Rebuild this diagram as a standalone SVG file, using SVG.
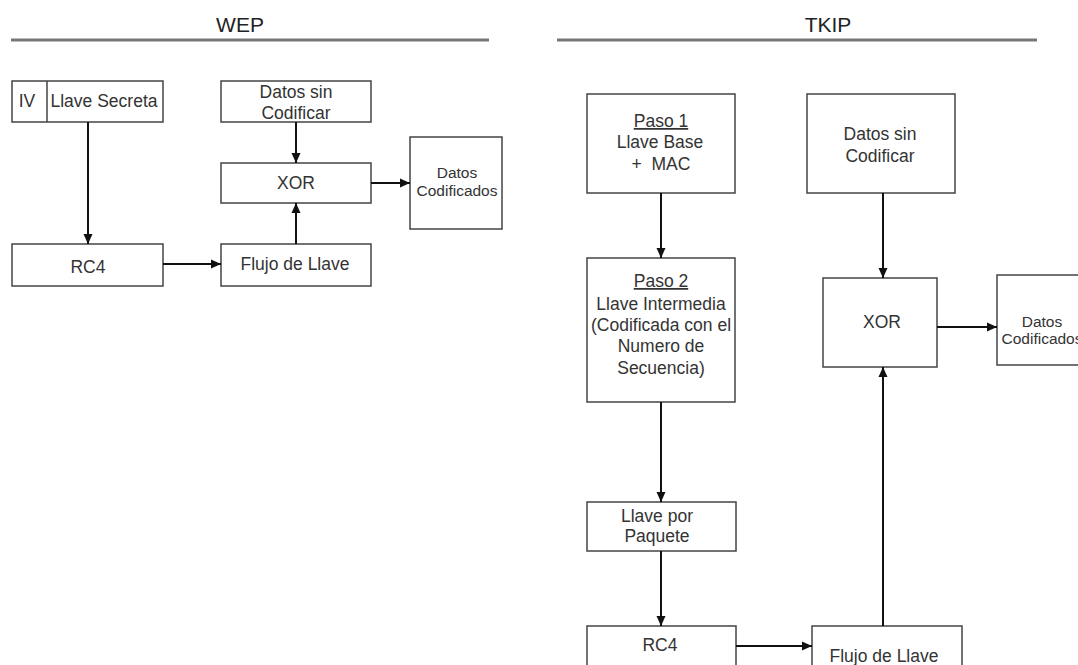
<svg xmlns="http://www.w3.org/2000/svg" width="1078" height="665" viewBox="0 0 1078 665">
  <defs>
    <marker id="arrow" markerUnits="userSpaceOnUse" markerWidth="10" markerHeight="10" viewBox="0 0 10 10" refX="10" refY="5" orient="auto">
      <path d="M0,0.5 L10,5 L0,9.5 Z" fill="#111"/>
    </marker>
    <style>
      .box { fill: #ffffff; stroke: #444444; stroke-width: 1.5; }
      .t { font-family: "Liberation Sans", Arial, sans-serif; font-size: 17.5px; fill: #333333; text-anchor: middle; }
      .sm { font-size: 15.5px; }
      .hdr { font-family: "Liberation Sans", Arial, sans-serif; font-size: 21px; fill: #222222; text-anchor: middle; }
      .rule { stroke: #777777; stroke-width: 3; }
      .link { stroke: #111111; stroke-width: 2; fill: none; marker-end: url(#arrow); }
      .u { text-decoration: underline; }
    </style>
  </defs>
  <rect width="1078" height="665" fill="#ffffff"/>

  <!-- section headers -->
  <g id="header-wep">
    <text class="hdr" x="240" y="32">WEP</text>
    <line class="rule" x1="11" y1="40" x2="489" y2="40"/>
  </g>
  <g id="header-tkip">
    <text class="hdr" x="828" y="32">TKIP</text>
    <line class="rule" x1="557" y1="40" x2="1037" y2="40"/>
  </g>

  <!-- WEP -->
  <g id="wep-key">
    <rect class="box" x="12" y="81" width="151" height="41"/>
    <line x1="47" y1="81" x2="47" y2="122" stroke="#444444" stroke-width="1.5"/>
    <text class="t" x="27" y="107">IV</text>
    <text class="t" x="104" y="107">Llave Secreta</text>
  </g>
  <g id="wep-plain">
    <rect class="box" x="221" y="81" width="150" height="41"/>
    <text class="t" x="296" y="98">Datos sin</text>
    <text class="t" x="296" y="119">Codificar</text>
  </g>
  <g id="wep-xor">
    <rect class="box" x="221" y="163" width="150" height="40"/>
    <text class="t" x="296" y="189">XOR</text>
  </g>
  <g id="wep-cipher">
    <rect class="box" x="410" y="137" width="92" height="92"/>
    <text class="t sm" x="457" y="178">Datos</text>
    <text class="t sm" x="457" y="196">Codificados</text>
  </g>
  <g id="wep-rc4">
    <rect class="box" x="12" y="244" width="151" height="42"/>
    <text class="t" x="88" y="273">RC4</text>
  </g>
  <g id="wep-stream">
    <rect class="box" x="221" y="244" width="150" height="42"/>
    <text class="t" x="295" y="270">Flujo de Llave</text>
  </g>

  <!-- TKIP -->
  <g id="tkip-step1">
    <rect class="box" x="587" y="94" width="148" height="99"/>
    <text class="t u" x="661" y="127">Paso 1</text>
    <text class="t" x="660" y="148">Llave Base</text>
    <text class="t" x="661" y="170" xml:space="preserve">+  MAC</text>
  </g>
  <g id="tkip-plain">
    <rect class="box" x="807" y="94" width="148" height="99"/>
    <text class="t" x="880" y="140">Datos sin</text>
    <text class="t" x="880" y="162">Codificar</text>
  </g>
  <g id="tkip-step2">
    <rect class="box" x="587" y="258" width="148" height="144"/>
    <text class="t u" x="661" y="287">Paso 2</text>
    <text class="t" x="661" y="310">Llave Intermedia</text>
    <text class="t" x="661" y="331">(Codificada con el</text>
    <text class="t" x="661" y="352">Numero de</text>
    <text class="t" x="661" y="374">Secuencia)</text>
  </g>
  <g id="tkip-xor">
    <rect class="box" x="823" y="278" width="114" height="89"/>
    <text class="t" x="882" y="328">XOR</text>
  </g>
  <g id="tkip-cipher">
    <rect class="box" x="997" y="275" width="95" height="90"/>
    <text class="t sm" x="1042" y="327">Datos</text>
    <text class="t sm" x="1042" y="344">Codificados</text>
  </g>
  <g id="tkip-packet-key">
    <rect class="box" x="587" y="502" width="149" height="49"/>
    <text class="t" x="657" y="522">Llave por</text>
    <text class="t" x="657" y="542">Paquete</text>
  </g>
  <g id="tkip-rc4">
    <rect class="box" x="587" y="626" width="149" height="50"/>
    <text class="t" x="660" y="651">RC4</text>
  </g>
  <g id="tkip-stream">
    <rect class="box" x="812" y="626" width="150" height="50"/>
    <text class="t" x="884" y="662">Flujo de Llave</text>
  </g>

  <!-- connectors -->
  <g id="connectors">
    <line class="link" x1="88" y1="122" x2="88" y2="244"/>
    <line class="link" x1="296" y1="122" x2="296" y2="163"/>
    <line class="link" x1="296" y1="244" x2="296" y2="203"/>
    <line class="link" x1="163" y1="264" x2="221" y2="264"/>
    <line class="link" x1="371" y1="183" x2="410" y2="183"/>

    <line class="link" x1="661" y1="193" x2="661" y2="258"/>
    <line class="link" x1="661" y1="402" x2="661" y2="502"/>
    <line class="link" x1="661" y1="551" x2="661" y2="626"/>
    <line class="link" x1="736" y1="646" x2="812" y2="646"/>
    <line class="link" x1="883" y1="626" x2="883" y2="367"/>
    <line class="link" x1="883" y1="193" x2="883" y2="278"/>
    <line class="link" x1="937" y1="327" x2="997" y2="327"/>
  </g>
</svg>
